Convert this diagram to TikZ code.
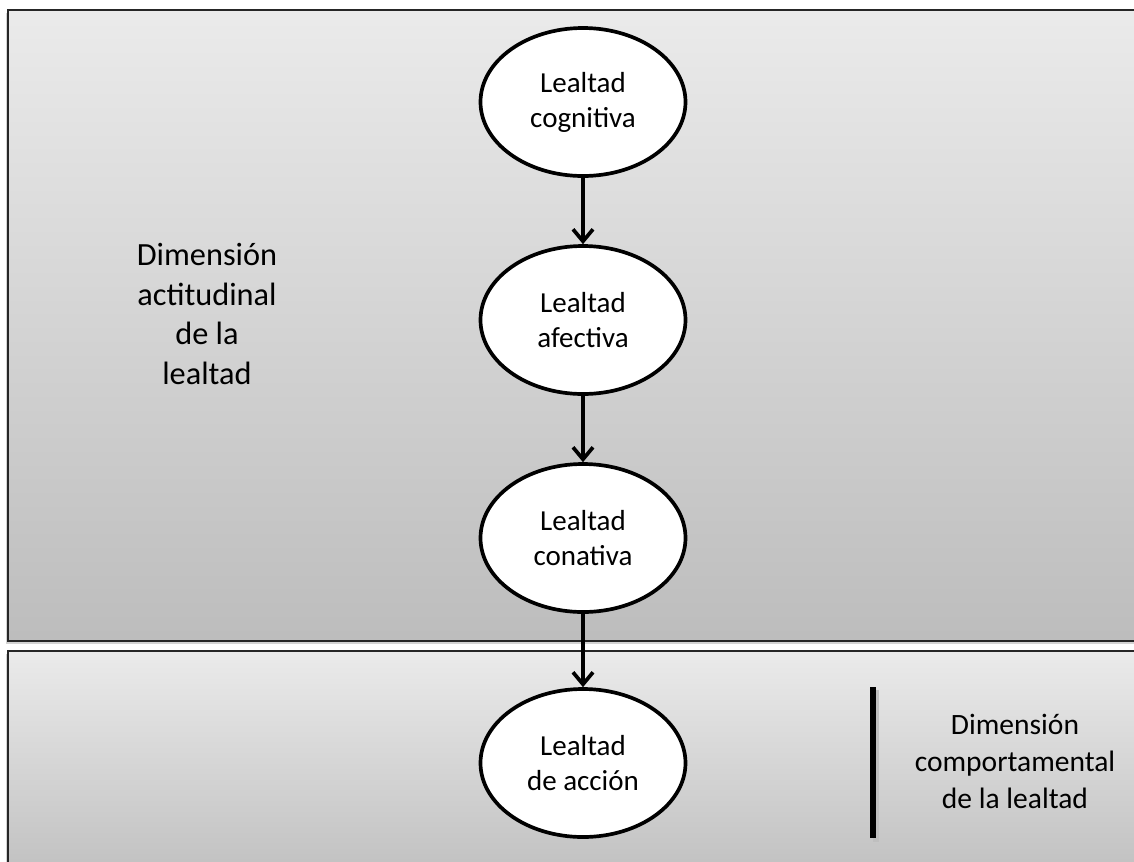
\documentclass[tikz,border=0pt]{standalone}
\usepackage{fontspec}
\setmainfont{Carlito}
\usetikzlibrary{shapes.geometric}
\usetikzlibrary{arrows.meta}
\usetikzlibrary{positioning}
\usetikzlibrary{shadows}
\tikzset{
  panel/.style={draw=black!85, line width=1.1pt, top color=black!8, bottom color=black!26,
    drop shadow={shadow xshift=-0.4mm, shadow yshift=-0.6mm, opacity=0.35}},
  stage/.style={ellipse, draw, fill=white, line width=2.1pt, minimum width=4.1cm,
    minimum height=2.96cm, inner sep=0pt, align=center, font=\fontsize{16.5}{20}\selectfont},
  dimlabel/.style={align=center},
  arrow/.style={draw, -{Straight Barb[length=2.4mm, width=4mm]}, line width=2.1pt}
  }

\begin{document}
\begin{tikzpicture}
	\useasboundingbox (0,0) rectangle (22.68,-17.22);
	% Frame
	\draw [panel] (0.16,-0.2) rectangle (23.2,-12.82);
	\draw [panel] (0.16,-13.02) rectangle (23.2,-17.9);

	% Nodes
	\node[stage] (cog) at (11.66,-2.04) {Lealtad\\cognitiva};
	\node[stage] (afe) at (11.66,-6.4) {Lealtad\\afectiva};
	\node[stage] (con) at (11.66,-10.76) {Lealtad\\conativa};
	\node[stage] (acc) at (11.66,-15.26) {Lealtad\\de acción};
	\node[dimlabel, font=\fontsize{18.4}{22.5}\selectfont] (actitud) at (4.14,-6.28)
		{Dimensión\\actitudinal\\de la\\lealtad};
	\node[dimlabel, font=\fontsize{16.8}{21}\selectfont] (comport) at (20.3,-15.23)
		{Dimensión\\comportamental\\de la lealtad};

	% Arrow
	\draw [arrow] (cog) -- (afe);
	\draw [arrow] (afe) -- (con);
	\draw [arrow] (con) -- (acc);

	% Etc.
	\draw[line width=3pt, black!25] (17.52,-13.8) -- (17.52,-16.84);
	\draw[line width=3pt] (17.46,-13.74) -- (17.46,-16.76);
\end{tikzpicture}
\end{document}
